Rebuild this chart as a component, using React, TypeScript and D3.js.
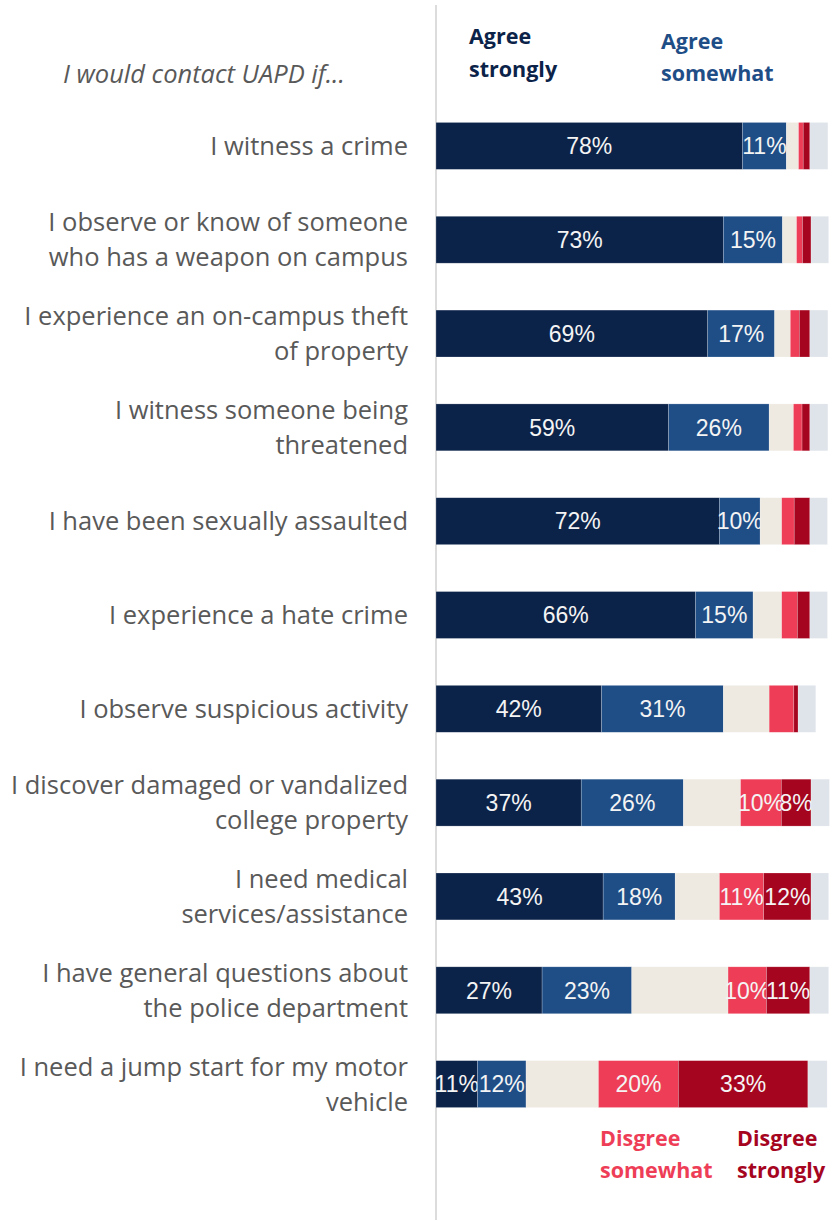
import React from "react";
import * as d3 from "d3";

const categories = [
  ["I witness a crime"],
  ["I observe or know of someone", "who has a weapon on campus"],
  ["I experience an on-campus theft", "of property"],
  ["I witness someone being", "threatened"],
  ["I have been sexually assaulted"],
  ["I experience a hate crime"],
  ["I observe suspicious activity"],
  ["I discover damaged or vandalized", "college property"],
  ["I need medical", "services/assistance"],
  ["I have general questions about", "the police department"],
  ["I need a jump start for my motor", "vehicle"],
];

const seriesKeys = ["agreeStrongly", "agreeSomewhat", "neutral", "disagreeSomewhat", "disagreeStrongly", "other"];
const agreeStrongly = [78.3, 73.4, 69.4, 59.4, 72.4, 66.3, 42.3, 37.1, 42.7, 27.1, 10.6];
const agreeSomewhat = [11.2, 15.1, 17.1, 25.7, 10.4, 14.7, 31.1, 26.1, 18.4, 22.9, 12.4];
const neutral = [3.1, 3.6, 4.0, 6.2, 5.5, 7.3, 11.7, 14.6, 11.3, 24.6, 18.5];
const disagreeSomewhat = [1.2, 1.5, 2.3, 2.2, 3.2, 4.0, 6.3, 10.4, 11.3, 9.8, 20.4];
const disagreeStrongly = [1.7, 2.2, 2.7, 2.0, 4.0, 3.2, 1.1, 7.6, 12.1, 11.1, 33.1];
const other = [4.6, 4.5, 4.6, 4.6, 4.5, 4.5, 4.5, 4.7, 4.5, 4.8, 4.9];

const colors = ["#0c2349", "#1f4e87", "#eeeae1", "#ee3e57", "#a6051f", "#dfe4ea"];
const labeled = [true, true, false, true, true, false];

export default function App() {
  const width = 830;
  const height = 1220;
  const x0 = 436;
  const x = d3.scaleLinear().domain([0, 100]).range([x0, x0 + 391.5]);
  const y = d3
    .scaleBand<number>()
    .domain(d3.range(categories.length))
    .range([99, 1131])
    .paddingInner(0.5)
    .paddingOuter(0.25);

  const data = categories.map((_, i) => ({
    agreeStrongly: agreeStrongly[i],
    agreeSomewhat: agreeSomewhat[i],
    neutral: neutral[i],
    disagreeSomewhat: disagreeSomewhat[i],
    disagreeStrongly: disagreeStrongly[i],
    other: other[i],
  }));
  const stack = d3.stack<any>().keys(seriesKeys)(data);

  const labelColor = "#595959";
  const labelFont = "'Open Sans', Lato, sans-serif";

  return (
    <svg width={width} height={height} style={{ display: "block", position: "absolute", left: 0, top: 0 }}>
      <rect width={width} height={height} fill="#fff" />
      <line x1={x0} x2={x0} y1={5} y2={1220} stroke="#d0d0d0" strokeWidth={1.5} />
      <text x={63} y={83} fontFamily={labelFont} fontStyle="italic" fontSize={25.5} fill={labelColor}>
        I would contact UAPD if...
      </text>
      {categories.map((lines, i) => {
        const cy = (y(i) as number) + y.bandwidth() / 2;
        const lh = 35;
        const start = cy - ((lines.length - 1) * lh) / 2;
        return (
          <text key={i} textAnchor="end" fontFamily={labelFont} fontSize={25.5} fill={labelColor}>
            {lines.map((l, j) => (
              <tspan key={j} x={408} y={start + j * lh} dy="0.35em">
                {l}
              </tspan>
            ))}
          </text>
        );
      })}
      {stack.map((s, si) => (
        <g key={si}>
          {s.map((d, i) => {
            const w = x(d[1]) - x(d[0]);
            const by = y(i) as number;
            const val = d[1] - d[0];
            return (
              <g key={i}>
                <rect x={x(d[0])} y={by} width={w} height={y.bandwidth()} fill={colors[si]} stroke="#ffffff" strokeOpacity={0.35} strokeWidth={0.6} />
                {labeled[si] && val >= 7.5 && (
                  <text
                    x={x(d[0]) + w / 2}
                    y={by + y.bandwidth() / 2}
                    dy="0.36em"
                    textAnchor="middle"
                    fontFamily="'Liberation Sans', Arial, sans-serif"
                    fontSize={23}
                    fill="#f4f4f4"
                  >
                    {Math.round(val)}%
                  </text>
                )}
              </g>
            );
          })}
        </g>
      ))}
      <g fontFamily="'Open Sans', Lato, sans-serif" fontWeight={700} fontSize={21.5}>
        <text x={469} y={44} fill="#0c2349">Agree</text>
        <text x={469} y={77} fill="#0c2349">strongly</text>
        <text x={661} y={49} fill="#1f4e87">Agree</text>
        <text x={661} y={81} fill="#1f4e87">somewhat</text>
        <text x={600} y={1146} fill="#ee3e57">Disgree</text>
        <text x={600} y={1178} fill="#ee3e57">somewhat</text>
        <text x={737} y={1146} fill="#a6051f">Disgree</text>
        <text x={737} y={1178} fill="#a6051f">strongly</text>
      </g>
    </svg>
  );
}
